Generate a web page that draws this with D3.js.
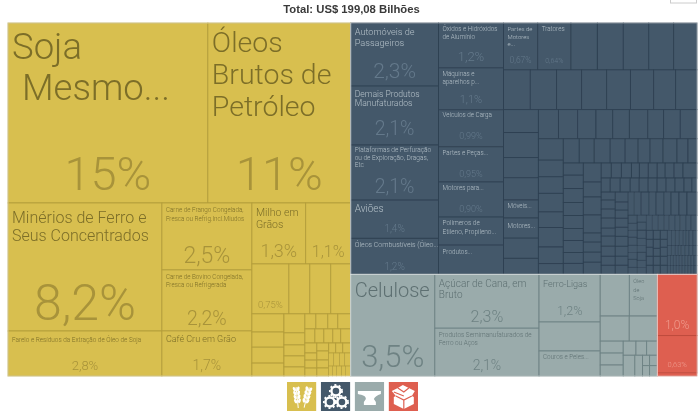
<!DOCTYPE html>
<html><head><meta charset="utf-8">
<script src="https://cdn.jsdelivr.net/npm/d3@7"></script>
<style>html,body{margin:0;padding:0;background:#fff}svg{display:block;filter:blur(.35px)}</style>
</head><body><div id="chart"></div>
<script>
const titleText = "Total: US$ 199,08 Bilhões";

// Named product values, in hundredths of a percent of the total
const productValues = {soja:1480,oleos:1058,minerios:811,farelo:285,frango:248,bovino:226,cafe:167,milho:135,milhoB:113,p075:76,
 autos:228,demais:213,plataformas:199,avioes:138,combust:130,oxidos:120,maquinas:112,veiculos:99,partes:94,motores:94,polimeros:75,produtos:78,
 partesMot:66,tratores:64,moveis:26,motoresB:29,
 celulose:352,acucar:231,semi:205,ferroligas:120,couros:63,oleoSoja:48,carneB:100,redB:61};
const productNames = {soja:["Soja","Mesmo..."],oleos:["Óleos","Brutos de","Petróleo"],minerios:["Minérios de Ferro e","Seus Concentrados"],
 farelo:["Farelo e Resíduos da Extração de Óleo de Soja"],frango:["Carne de Frango Congelada,","Fresca ou Refrig.Incl.Miudos"],
 bovino:["Carne de Bovino Congelada,","Fresca ou Refrigerada"],cafe:["Café Cru em Grão"],milho:["Milho em","Grãos"],
 autos:["Automóveis de","Passageiros"],demais:["Demais Produtos","Manufaturados"],plataformas:["Plataformas de Perfuração","ou de Exploração, Dragas,","Etc"],
 avioes:["Aviões"],combust:["Óleos Combustíveis (Óleo..."],oxidos:["Óxidos e Hidróxidos","de Alumínio"],maquinas:["Máquinas e","aparelhos p..."],
 veiculos:["Veículos de Carga"],partes:["Partes e Peças..."],motores:["Motores para..."],polimeros:["Polímeros de","Etileno, Propileno..."],produtos:["Produtos..."],
 partesMot:["Partes de","Motores","e..."],tratores:["Tratores"],moveis:["Móveis..."],motoresB:["Motores..."],
 celulose:["Celulose"],acucar:["Açúcar de Cana, em","Bruto"],semi:["Produtos Semimanufaturados de","Ferro ou Aços"],ferroligas:["Ferro-Ligas"],couros:["Couros e Peles..."],oleoSoja:["Óleo","de","Soja"]};
const productShares = {soja:"15%",oleos:"11%",minerios:"8,2%",farelo:"2,8%",frango:"2,5%",bovino:"2,2%",cafe:"1,7%",milho:"1,3%",milhoB:"1,1%",p075:"0,75%",
 autos:"2,3%",demais:"2,1%",plataformas:"2,1%",avioes:"1,4%",combust:"1,2%",oxidos:"1,2%",maquinas:"1,1%",veiculos:"0,99%",partes:"0,95%",motores:"0,90%",
 partesMot:"0,67%",tratores:"0,64%",celulose:"3,5%",acucar:"2,3%",semi:"2,1%",ferroligas:"1,2%",carneB:"1,0%",redB:"0,63%"};

// Sector trees: nested lists split alternately across and down
const yellowTiny = [[2.9,2.9,3.3],[2.7,3.2,2.7,3.2],[1.6,1.6,2.1,1.6,2.1]];
const yellowLow = [[4.9,3.5,3.9,3.9],[3.9,4.4,3.9,3.9],yellowTiny];
const yellowSmall = [[6.8,7.4,6.2,8.0],[5.8,5.2,5.2,4.6,5.8],yellowLow];
const yellowThird = [["milho","milhoB"],["p075",43,43,41],[[24,20,21,17],[16.4,10.4,9.5,9.5,7.8],yellowSmall]];
const yellowTree = [["soja","oleos"],[["minerios","farelo"],["frango","bovino","cafe"],yellowThird]];

const darkH = [[2.5,2.5,2.5,2.5,1.85,1.85,2.5,2.5],[1.6,1.6,1.2,1.2,1.6,1.6,1.6,1.6],[1.2,1.2,1.2,1.2,1.2,1.2,1.2,1.2,1.2,1.2],[1.1,1.1,1.1,1.1,1.1,1.1,1.1,1.1,1.1,1.1]];
const darkG = [[2.6,2.3,2.6,2.6,2.6],[2.6,2.6,2.3,2.6,2.6],[2.6,2.3,2.6,2.6,2.6],darkH];
const darkF = [[3.7,3.7,3.7,3.1,3.7,3.1,3.7,3.1,3.7],darkG];
const darkE = [[3,2.6,2.6,3,2.6,2.6,3,2.6],[2.6,3,3,2.6,2.6,3,2.6,2.6],darkF];
const darkD = [[5.7,6.6,7.6,6.6,7.6,6.6,7.6,7.6,9.5],darkE];
const darkC = [[4.6,5.2,5.2,5.8,4.6,5.8,5.8,5.2,5.2],[5.3,4.3,4.3,4.8,4.8,5.3,5.3,4.8,4.8],darkD];
const darkB = [[6.2,6.2,6.2,4.9,5.5,5.5,4.9,5.5,5.5,8.6],[5.2,5.8,5.8,5.2,5.2,5.2,5.2,5.2,5.2,4.6,2.9],darkC];
const darkA = [[10,11,11.5,10.7,10.7,9.9,9.9,9,9],[14,11,13.3,13.3,6.7,7.4,7.4,8.9],darkB];
const darkMid = [[16,15,16,15,13,12,13,14,11,9],darkA];
const darkLow = [[22,17,17,19,16,20,17,11],darkMid];
const darkRight = [[24,23,22,20,20,22,19,20,20],darkLow];
const darkRest = [["partesMot","tratores",51,50,49,48,45],[44,43,41,41,39,38,36,35],[[33,36,29,32,"moveis","motoresB",29,23],darkRight]];
const darkTree = [["autos","demais","plataformas","avioes","combust"],["oxidos","maquinas","veiculos","partes","motores","polimeros","produtos"],darkRest];

const grayLower = [[11.3,11.3,10.4],[[7.4,6.2,6.2],[[9.9],[6.6],[3,3],[3.3,3.3]]]];
const grayCols = [["celulose"],["acucar","semi"],["ferroligas",73,"couros"],[[50,"oleoSoja"],[30,29],grayLower]];
const grayTree = [grayCols];
const redTree = ["carneB","redB",5];
const rootTree = [yellowTree,[darkTree,[grayTree,redTree]]];

// Sector styling
const sectors = [
 {tree:yellowTree,fill:"#d8bf4f",line:"#b39d3a",title:"#7c6e28",share:"#a8933a"},
 {tree:darkTree,fill:"#44586a",line:"#2e4052",title:"#b4c0c8",share:"#64798b"},
 {tree:grayTree,fill:"#9aabab",line:"#6d8284",title:"#5e7072",share:"#6e8283"},
 {tree:redTree,fill:"#de5f50",line:"#bd4a3c",title:"#f4b8ae",share:"#f09c8e"}];

// Label styling: title size, line height, first baseline, share size, share inset from bottom
const labelStyle = {
 soja:[36.5,41,36,47,13],oleos:[28.5,32,29,47,13],minerios:[16,18,20,50,11],farelo:[6.4,8,11,13,6],frango:[6.3,9,9,23,7],bovino:[6.3,8.5,9,19.5,6],cafe:[9,10,11,14,6],
 milho:[10.5,12,13,18,7],milhoB:[0,0,0,16,7],p075:[0,0,0,9.5,6],
 autos:[9.2,10.5,12,21,8],demais:[8.6,9,11,19.5,10],plataformas:[6.5,7.5,7,19.5,7],avioes:[10,0,12,10,6],combust:[7,8,9,10,4],
 oxidos:[6.3,8,8,13,7],maquinas:[6.3,8,8,11,7],veiculos:[6.3,8,7,9,8],partes:[6.3,8,8,9,5],motores:[6.3,8,8,9,5],polimeros:[6.5,9,8,0,0],produtos:[6.3,8,9,0,0],
 partesMot:[6,7.5,8,8.5,7],tratores:[6.3,8,8,7,7],moveis:[6.3,8,8,0,0],motoresB:[6.3,8,10,0,0],
 celulose:[20,0,23,31,9],acucar:[10,11,13,16,6],semi:[6.4,8,9,14,6],ferroligas:[9,10,13,12.5,7],couros:[6.3,8,8,0,0],oleoSoja:[5.5,8.5,9,0,0],
 carneB:[0,0,0,12,7],redB:[0,0,0,7.5,6]};
const lineIndent = {soja:[0,10]};

const FONT = "Roboto, 'Liberation Sans', Arial, sans-serif";
const W = 698, H = 414, left = 8, top_ = 23, tmW = 689, tmH = 353;
const svg = d3.select("#chart").append("svg").attr("width",W).attr("height",H);

svg.append("text").attr("x",351.5).attr("y",13).attr("text-anchor","middle")
  .attr("font-family","'Liberation Sans',Arial,sans-serif").attr("font-weight","bold")
  .attr("font-size",11.3).attr("fill","#3a3a3a").text(titleText);
svg.append("rect").attr("x",670.5).attr("y",-3).attr("width",26).attr("height",6)
  .attr("fill","#fff").attr("stroke","#ccc");

const leafValue = d => Array.isArray(d) ? 0 : (typeof d === "number" ? d : productValues[d]);
const root = d3.hierarchy(rootTree, d => Array.isArray(d) ? d : null).sum(leafValue);
d3.treemap().size([tmW,tmH]).round(false)
  .tile((node,x0,y0,x1,y1) => (node.depth % 2 === 0 ? d3.treemapDice : d3.treemapSlice)(node,x0,y0,x1,y1))(root);

const sectorOf = n => sectors.find(s => n.ancestors().some(a => a.data === s.tree));
const g = svg.append("g").attr("transform",`translate(${left},${top_})`);
const leaves = root.leaves();

g.selectAll("rect.cell").data(leaves).join("rect").attr("class","cell")
  .attr("x",d=>d.x0).attr("y",d=>d.y0).attr("width",d=>d.x1-d.x0).attr("height",d=>d.y1-d.y0)
  .attr("fill",d=>sectorOf(d).fill).attr("stroke",d=>sectorOf(d).line)
  .attr("stroke-width",d=>Math.min(d.x1-d.x0,d.y1-d.y0)<7?.6:.9);

// outer edge of each sector
const sectorNodes = root.descendants().filter(n => sectors.some(s => s.tree === n.data));
g.selectAll("rect.sector").data(sectorNodes).join("rect").attr("class","sector")
  .attr("x",d=>d.x0).attr("y",d=>d.y0).attr("width",d=>d.x1-d.x0).attr("height",d=>d.y1-d.y0)
  .attr("fill","none").attr("stroke","#fff").attr("stroke-opacity",.45).attr("stroke-width",1);

const named = leaves.filter(d => typeof d.data === "string");
const labels = g.selectAll("g.label").data(named).join("g").attr("class","label")
  .attr("font-family",FONT).attr("font-weight",300);

labels.each(function(d){
  const sel = d3.select(this), st = labelStyle[d.data], c = sectorOf(d);
  (productNames[d.data]||[]).forEach((line,i)=>{
    sel.append("text").attr("x",d.x0+4+((lineIndent[d.data]||[])[i]||0)).attr("y",d.y0+st[2]+i*st[1])
      .attr("font-size",st[0]).attr("fill",c.title).text(line);
  });
  if(productShares[d.data] && st[3]){
    sel.append("text").attr("x",(d.x0+d.x1)/2).attr("y",d.y1-st[4]).attr("text-anchor","middle")
      .attr("font-size",st[3]).attr("fill",c.share).text(productShares[d.data]);
  }
});

// Legend icons
const iconX = d3.scaleBand().domain(d3.range(sectors.length)).range([287,418]).paddingInner(.14);
const icons = svg.selectAll("g.icon").data(sectors).join("g").attr("class","icon")
  .attr("transform",(d,i)=>`translate(${iconX(i)},382)`);
icons.append("rect").attr("width",iconX.bandwidth()).attr("height",29).attr("fill",d=>d.fill);
const ic = i => d3.select(icons.nodes()[i]);
// wheat
[10,20].forEach(cx=>{
  const w = ic(0).append("g").attr("transform",`translate(${cx},14) rotate(${cx<15?-6:14})`);
  w.append("line").attr("y1",-9).attr("y2",12).attr("stroke","#fff").attr("stroke-width",1);
  [-7,-3,1,5].forEach(y=>{[-1,1].forEach(s=>{
    w.append("ellipse").attr("cx",s*1.9).attr("cy",y).attr("rx",1.4).attr("ry",2.4)
     .attr("transform",`rotate(${s*20} ${s*1.9} ${y})`).attr("fill","#fff");
  });});
});
// gears
[[15,9,4.5],[9,20,4.5],[21,20,4.5]].forEach(([cx,cy,r])=>{
  ic(1).append("circle").attr("cx",cx).attr("cy",cy).attr("r",r).attr("fill","none").attr("stroke","#fff").attr("stroke-width",2.4);
  ic(1).append("circle").attr("cx",cx).attr("cy",cy).attr("r",r+1.6).attr("fill","none").attr("stroke","#fff").attr("stroke-width",1.8).attr("stroke-dasharray","2 2.4");
});
// anvil
ic(2).append("path").attr("fill","#fff").attr("d","M3 9H26V12C22 13 20 15 19 17L21 20V23H9V20L11 17C11 14 8 13 3 12Z");
// box
ic(3).append("path").attr("fill","#fff").attr("d","M14 3L20 6L26 9L23 14L25 15V22L15 27L5 22V15L7 14L3 9L9 6Z");
ic(3).append("path").attr("fill","none").attr("stroke",sectors[3].fill).attr("stroke-width",1.2).attr("d","M7 14L15 18L23 14M15 18V27M9 6L15 10L20 6M5 10L15 14");
</script></body></html>
